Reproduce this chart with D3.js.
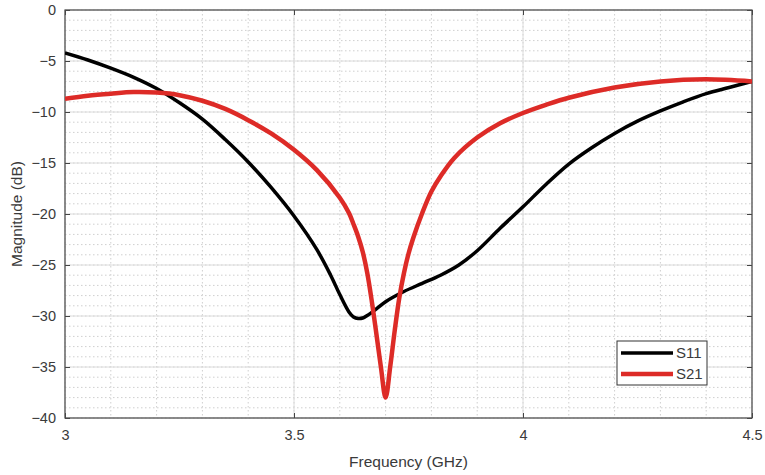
<!DOCTYPE html>
<html>
<head>
<meta charset="utf-8">
<script src="https://cdn.jsdelivr.net/npm/d3@7"></script>
<style>
  body { margin: 0; background: #fff; }
  text { font-family: "Liberation Sans", Arial, sans-serif; fill: #3a3a3a; }
</style>
</head>
<body>
<div id="chart"></div>
<script>
// frequency (GHz) / magnitude (dB)
var s11Freq = [3.00, 3.05, 3.10, 3.15, 3.20, 3.25, 3.30, 3.35, 3.40, 3.45, 3.50, 3.55, 3.58, 3.60, 3.62, 3.63, 3.64, 3.65,
    3.66, 3.68, 3.70, 3.74, 3.78, 3.82, 3.86, 3.90, 3.95, 4.00, 4.05, 4.10, 4.15, 4.20, 4.25, 4.30, 4.35, 4.40, 4.45, 4.50];
var s11Mag = [-4.2, -4.9, -5.7, -6.6, -7.7, -9.1, -10.7, -12.7, -14.9, -17.4, -20.2, -23.5, -26.0, -27.9, -29.6, -30.1, -30.25, -30.2,
    -29.95, -29.3, -28.6, -27.6, -26.8, -26.0, -25.0, -23.6, -21.4, -19.3, -17.1, -15.1, -13.5, -12.1, -10.9, -9.9, -9.0, -8.2, -7.6, -7.0];

var s21Freq = [3.00, 3.05, 3.10, 3.15, 3.20, 3.25, 3.30, 3.35, 3.40, 3.45, 3.50, 3.55, 3.60, 3.62, 3.63, 3.64, 3.65, 3.66, 3.67, 3.68, 3.69,
    3.70, 3.71, 3.72, 3.73, 3.74, 3.75, 3.76, 3.78, 3.80, 3.82, 3.85, 3.90, 3.95, 4.00, 4.05, 4.10, 4.20, 4.30, 4.40, 4.50];
var s21Mag = [-8.7, -8.4, -8.2, -8.05, -8.1, -8.35, -8.9, -9.7, -10.8, -12.1, -13.7, -15.7, -18.4, -19.9, -21.0, -22.2, -23.7, -25.8, -28.6, -31.8, -35.1,
    -38.0, -35.0, -31.4, -28.2, -25.8, -23.9, -22.4, -19.9, -17.8, -16.3, -14.5, -12.5, -11.1, -10.1, -9.3, -8.6, -7.6, -7.0, -6.8, -7.0];

var xTicks = [3, 3.5, 4, 4.5];
var yTicks = [0, -5, -10, -15, -20, -25, -30, -35, -40];
var seriesNames = ["S11", "S21"];
var seriesColors = ["#000000", "#dd2b27"];

var width = 765, height = 475;
var margin = {top: 10, right: 13, bottom: 57, left: 65};
var w = width - margin.left - margin.right,
    h = height - margin.top - margin.bottom;

var svg = d3.select("#chart").append("svg")
    .attr("width", width)
    .attr("height", height);

var g = svg.append("g")
    .attr("transform", "translate(" + margin.left + "," + margin.top + ")");

var x = d3.scaleLinear().domain([3, 4.5]).range([0, w]);
var y = d3.scaleLinear().domain([-40, 0]).range([h, 0]);

// minor grid (dotted)
var minorX = d3.range(3, 4.5001, 0.1), minorY = d3.range(-40, 0.001, 1);
g.append("g").selectAll("line").data(minorX).enter().append("line")
    .attr("x1", function(d) { return x(d); }).attr("x2", function(d) { return x(d); })
    .attr("y1", 0).attr("y2", h)
    .attr("stroke", "#cfcfcf").attr("stroke-dasharray", "1.5,2.5");
g.append("g").selectAll("line").data(minorY).enter().append("line")
    .attr("y1", function(d) { return y(d); }).attr("y2", function(d) { return y(d); })
    .attr("x1", 0).attr("x2", w)
    .attr("stroke", "#cfcfcf").attr("stroke-dasharray", "1.5,2.5");

// major grid
g.append("g").selectAll("line").data(xTicks).enter().append("line")
    .attr("x1", function(d) { return x(d); }).attr("x2", function(d) { return x(d); })
    .attr("y1", 0).attr("y2", h)
    .attr("stroke", "#dcdcdc");
g.append("g").selectAll("line").data(yTicks).enter().append("line")
    .attr("y1", function(d) { return y(d); }).attr("y2", function(d) { return y(d); })
    .attr("x1", 0).attr("x2", w)
    .attr("stroke", "#dcdcdc");

// axes, ticks inward
var axisStyle = function(sel) {
    sel.select(".domain").remove();
    sel.selectAll("line").attr("stroke", "#444");
    sel.selectAll("text").style("font-size", "14.5px").attr("fill", "#3a3a3a");
};
g.append("g").attr("transform", "translate(0," + h + ")")
    .call(d3.axisBottom(x).tickValues(xTicks).tickSize(-5).tickPadding(12).tickFormat(d3.format("")))
    .call(axisStyle);
g.append("g")
    .call(d3.axisTop(x).tickValues(xTicks).tickSize(-5).tickFormat(""))
    .call(axisStyle);
g.append("g")
    .call(d3.axisLeft(y).tickValues(yTicks).tickSize(-5).tickPadding(9).tickFormat(d3.format("")))
    .call(axisStyle);
g.append("g").attr("transform", "translate(" + w + ",0)")
    .call(d3.axisRight(y).tickValues(yTicks).tickSize(-5).tickFormat(""))
    .call(axisStyle);

g.append("rect")
    .attr("width", w).attr("height", h)
    .attr("fill", "none").attr("stroke", "#4a4a4a").attr("stroke-width", 1.2);

// curves
svg.append("defs").append("clipPath").attr("id", "clip")
    .append("rect").attr("width", w).attr("height", h);

var line = d3.line()
    .x(function(d) { return x(d[0]); })
    .y(function(d) { return y(d[1]); })
    .curve(d3.curveCatmullRom.alpha(0.5));

var series = [
    d3.zip(s11Freq, s11Mag),
    d3.zip(s21Freq, s21Mag)
];
var widths = [3.5, 4.5];

series.forEach(function(s, i) {
    g.append("path")
        .datum(s)
        .attr("clip-path", "url(#clip)")
        .attr("fill", "none")
        .attr("stroke", seriesColors[i])
        .attr("stroke-width", widths[i])
        .attr("stroke-linejoin", "round")
        .attr("d", line);
});

// legend
var lg = g.append("g").attr("transform", "translate(" + (617 - margin.left) + "," + (341 - margin.top) + ")");
lg.append("rect").attr("width", 90).attr("height", 44)
    .attr("fill", "#fff").attr("stroke", "#333").attr("stroke-width", 1);
seriesNames.forEach(function(n, i) {
    var yy = 12 + i * 21;
    lg.append("line").attr("x1", 4).attr("x2", 56).attr("y1", yy).attr("y2", yy)
        .attr("stroke", seriesColors[i]).attr("stroke-width", widths[i]);
    lg.append("text").attr("x", 59).attr("y", yy + 5).text(n)
        .style("font-size", "15px").attr("fill", "#111");
});

// axis titles
svg.append("text")
    .attr("x", margin.left + w / 2).attr("y", 467)
    .attr("text-anchor", "middle")
    .style("font-size", "15.5px")
    .text("Frequency (GHz)");
svg.append("text")
    .attr("transform", "translate(22," + (margin.top + h / 2) + ") rotate(-90)")
    .attr("text-anchor", "middle")
    .style("font-size", "15.5px")
    .text("Magnitude (dB)");
</script>
</body>
</html>
